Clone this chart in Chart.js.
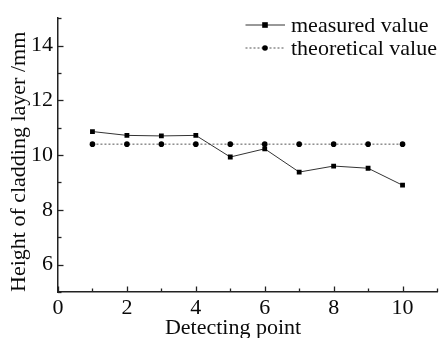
<!DOCTYPE html>
<html><head><meta charset="utf-8">
<script src="https://cdn.jsdelivr.net/npm/chart.js@4/dist/chart.umd.min.js"></script>
<style>html,body{margin:0;padding:0;background:#fff;overflow:hidden;}</style>
</head><body>
<canvas id="c" width="445" height="338" style="display:block;width:445px;height:338px"></canvas>
<script>
const detectingPoints = [1, 2, 3, 4, 5, 6, 7, 8, 9, 10];
const measuredValues = [10.86, 10.72, 10.70, 10.72, 9.93, 10.23, 9.38, 9.60, 9.52, 8.90];
const theoreticalValues = [10.40, 10.40, 10.40, 10.40, 10.40, 10.40, 10.40, 10.40, 10.40, 10.40];
const xTickLabels = [0, 2, 4, 6, 8, 10];
const yTickLabels = [6, 8, 10, 12, 14];
const seriesNames = ['measured value', 'theoretical value'];
const xTitle = 'Detecting point';
const yTitle = 'Height of cladding layer /mm';

const FONT = '"Liberation Serif", "Times New Roman", serif';
const FS = 22;
const TXT = '#0a0a0a';

const innerTicks = {
  id: 'innerTicks',
  afterDraw(chart) {
    const ctx = chart.ctx;
    const xs = chart.scales.x, ys = chart.scales.y;
    const area = chart.chartArea;
    ctx.save();
    ctx.strokeStyle = '#222';
    ctx.lineWidth = 1.3;
    xs.ticks.forEach(t => {
      const px = Math.round(xs.getPixelForValue(t.value)) + 0.5;
      const len = xTickLabels.includes(t.value) ? 5.5 : 3.5;
      ctx.beginPath(); ctx.moveTo(px, area.bottom); ctx.lineTo(px, area.bottom - len); ctx.stroke();
    });
    ys.ticks.forEach(t => {
      const py = Math.round(ys.getPixelForValue(t.value)) + 0.5;
      const len = yTickLabels.includes(t.value) ? 5.5 : 3.5;
      ctx.beginPath(); ctx.moveTo(area.left, py); ctx.lineTo(area.left + len, py); ctx.stroke();
    });
    // x title
    ctx.fillStyle = TXT;
    ctx.font = FS + 'px ' + FONT;
    ctx.textAlign = 'center';
    ctx.textBaseline = 'alphabetic';
    ctx.fillText(xTitle, 233, 334);
    // legend
    const ds = chart.data.datasets;
    const rows = [25, 48];
    ds.forEach((d, i) => {
      const y = rows[i];
      ctx.strokeStyle = d.borderColor;
      ctx.lineWidth = d.borderWidth;
      ctx.setLineDash(d.borderDash || []);
      ctx.beginPath(); ctx.moveTo(245.5, y); ctx.lineTo(285, y); ctx.stroke();
      ctx.setLineDash([]);
      ctx.fillStyle = '#000';
      if (d.pointStyle === 'rect') {
        ctx.fillRect(265 - 2.8, y - 2.8, 5.6, 5.6);
      } else {
        ctx.beginPath(); ctx.arc(265, y, 2.8, 0, Math.PI * 2); ctx.fill();
      }
      ctx.fillStyle = TXT;
      ctx.textAlign = 'left';
      ctx.textBaseline = 'middle';
      ctx.fillText(d.label, 291, y + 1);
    });
    ctx.restore();
  }
};

new Chart(document.getElementById('c'), {
  type: 'line',
  data: {
    datasets: [
      {
        label: seriesNames[0],
        data: detectingPoints.map((x, i) => ({x, y: measuredValues[i]})),
        borderColor: '#333', borderWidth: 1, pointStyle: 'rect',
        pointRadius: 3.4, pointBackgroundColor: '#000', pointBorderColor: '#000', pointBorderWidth: 0,
        tension: 0, fill: false
      },
      {
        label: seriesNames[1],
        data: detectingPoints.map((x, i) => ({x, y: theoreticalValues[i]})),
        borderColor: '#555', borderWidth: 1, borderDash: [2, 2], pointStyle: 'circle',
        pointRadius: 2.8, pointBackgroundColor: '#000', pointBorderColor: '#000', pointBorderWidth: 0,
        tension: 0, fill: false
      }
    ]
  },
  options: {
    responsive: false, animation: false,
    layout: { padding: { top: 13, right: 8, left: 0, bottom: 0 } },
    plugins: { legend: { display: false }, tooltip: { enabled: false } },
    scales: {
      x: {
        type: 'linear', min: 0, max: 11,
        afterFit(s) { s.height = 46; },
        grid: { display: false, drawTicks: false },
        border: { display: true, color: '#222', width: 1.5 },
        ticks: {
          stepSize: 1, autoSkip: false, maxRotation: 0, padding: 3,
          color: TXT, font: { family: FONT, size: FS },
          callback: v => xTickLabels.includes(v) ? String(v) : ''
        }
      },
      y: {
        type: 'linear', min: 5, max: 15,
        afterFit(s) { s.width = 58; },
        grid: { display: false, drawTicks: false },
        border: { display: true, color: '#222', width: 1.5 },
        title: { display: true, text: yTitle, align: 'start', color: TXT,
                 font: { family: FONT, size: FS, lineHeight: 1 }, padding: { top: 8, bottom: 0 } },
        ticks: {
          stepSize: 1, autoSkip: false, padding: 5,
          color: TXT, font: { family: FONT, size: FS },
          callback: v => yTickLabels.includes(v) ? String(v) : ''
        }
      }
    }
  },
  plugins: [innerTicks]
});
</script>
</body></html>
